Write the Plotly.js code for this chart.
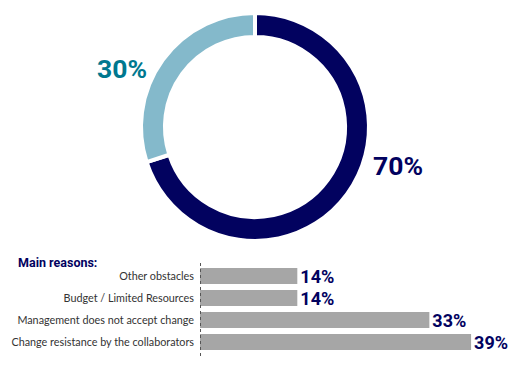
<!DOCTYPE html>
<html>
<head>
<meta charset="utf-8">
<script src="https://cdn.plot.ly/plotly-3.0.1.min.js"></script>
<style>html,body{margin:0;padding:0;background:#fff;}#chart{width:510px;height:387px;}</style>
</head>
<body>
<div id="chart"></div>
<script>
// Donut data
const donutLabels = ["Yes", "No"];
const donutValues = [70, 30];
const donutColors = ["#02025f", "#84b9cb"];
const donutTextColors = ["#02025f", "#00788f"];

// Bar data (top to bottom)
const reasons = ["Other obstacles", "Budget / Limited Resources", "Management does not accept change", "Change resistance by the collaborators"];
const reasonValues = [14, 14, 33, 39];
const sectionTitle = "Main reasons:";

const FONT = "Lato, 'Noto Sans', sans-serif";
const BOLD = "Roboto, 'Noto Sans', sans-serif";

const pie = {
  type: "pie",
  labels: donutLabels,
  values: donutValues,
  sort: false,
  direction: "clockwise",
  rotation: 0,
  hole: 0.79,
  textinfo: "none",
  hoverinfo: "none",
  marker: {colors: donutColors, line: {color: "#ffffff", width: 4}},
  domain: {x: [0.2765, 0.7235], y: [0.3774, 0.9666]},
  showlegend: false
};

const bar = {
  type: "bar",
  orientation: "h",
  y: reasons,
  x: reasonValues,
  marker: {color: "#a6a6a6"},
  texttemplate: "<b>%{x}%</b>",
  textposition: "outside",
  constraintext: "none",
  textfont: {family: BOLD, size: 18, color: "#02025f"},
  cliponaxis: false,
  hoverinfo: "none",
  showlegend: false
};

const annotations = [
  {xref: "paper", yref: "paper", x: 122/510, y: 1 - 68/387, xanchor: "center", yanchor: "middle",
   text: "<b>" + donutValues[1] + "%</b>", showarrow: false,
   font: {family: BOLD, size: 26.5, color: donutTextColors[1]}},
  {xref: "paper", yref: "paper", x: 398/510, y: 1 - 165/387, xanchor: "center", yanchor: "middle",
   text: "<b>" + donutValues[0] + "%</b>", showarrow: false,
   font: {family: BOLD, size: 26.5, color: donutTextColors[0]}},
  {xref: "paper", yref: "paper", x: 16/510, y: 1 - 262/387, xanchor: "left", yanchor: "middle", text: "<b>" + sectionTitle + "</b>", showarrow: false,
   font: {family: BOLD, size: 12.5, color: "#02025f"}}
];

const layout = {
  width: 510, height: 387,
  margin: {l: 0, r: 0, t: 0, b: 0},
  paper_bgcolor: "#ffffff", plot_bgcolor: "#ffffff",
  bargap: 0.27,
  xaxis: {domain: [200/510, 1], range: [0, 44.6], visible: false, fixedrange: true},
  yaxis: {domain: [1 - 353/387, 1 - 265/387], autorange: "reversed", showgrid: false, zeroline: false,
          showline: false, ticks: "", ticklabelstandoff: 5,
          tickfont: {family: FONT, size: 10.8, color: "#333333"}, fixedrange: true},
  shapes: [
    {type: "line", xref: "x", yref: "paper", x0: 0, x1: 0, y0: 1 - 356/387, y1: 1 - 262/387,
     line: {color: "#555555", width: 2, dash: "dot"}, layer: "above"}
  ],
  annotations: annotations
};

Plotly.newPlot("chart", [pie, bar], layout, {displayModeBar: false, staticPlot: true});
</script>
</body>
</html>
